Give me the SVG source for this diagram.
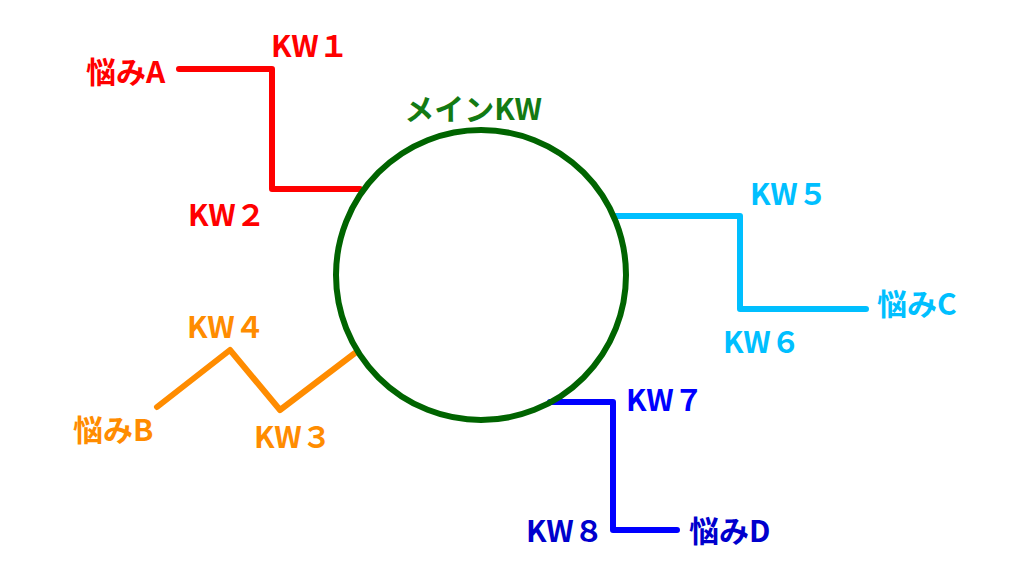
<svg xmlns="http://www.w3.org/2000/svg" width="1024" height="576" viewBox="0 0 1024 576">
<style>
text{font-family:"Noto Sans CJK JP","Noto Sans",sans-serif;font-weight:bold;font-size:30px}
.ln{fill:none;stroke-width:6;stroke-linecap:round;stroke-linejoin:round}
.r{fill:#ff0000}.o{fill:#ff8c00}.c{fill:#00bfff}.b{fill:#0000ff}.db{fill:#0000cd}
</style>
<rect width="1024" height="576" fill="#ffffff"/>
<g id="connectors">
<polyline class="ln" stroke="#ff0000" points="179,69 272,69 272,189 360,189"/>
<polyline class="ln" stroke="#ff8c00" points="157,407 230,350 280,410 355,353"/>
<polyline class="ln" stroke="#00bfff" points="614,216 740,216 740,309 866,309"/>
<polyline class="ln" stroke="#0000ff" points="550,402 613,402 613,530 677,530"/>
</g>
<g id="main">
<circle cx="481" cy="275" r="145" fill="none" stroke="#006400" stroke-width="6"/>
<text x="473" y="120" text-anchor="middle" fill="#137a13">メインKW</text>
</g>
<g id="nayamiA"><text class="r" x="86" y="83">悩みA</text></g>
<g id="kw1"><text class="r" x="271" y="57">KW１</text></g>
<g id="kw2"><text class="r" x="188" y="226">KW２</text></g>
<g id="nayamiB"><text class="o" x="73" y="441">悩みB</text></g>
<g id="kw4"><text class="o" x="187" y="338">KW４</text></g>
<g id="kw3"><text class="o" x="254" y="448">KW３</text></g>
<g id="kw5"><text class="c" x="750" y="205">KW５</text></g>
<g id="kw6"><text class="c" x="723" y="353">KW６</text></g>
<g id="nayamiC"><text class="c" x="877" y="315">悩みC</text></g>
<g id="kw7"><text class="b" x="626" y="411">KW７</text></g>
<g id="kw8"><text class="db" x="526" y="542">KW８</text></g>
<g id="nayamiD"><text class="db" x="689" y="542">悩みD</text></g>
</svg>
